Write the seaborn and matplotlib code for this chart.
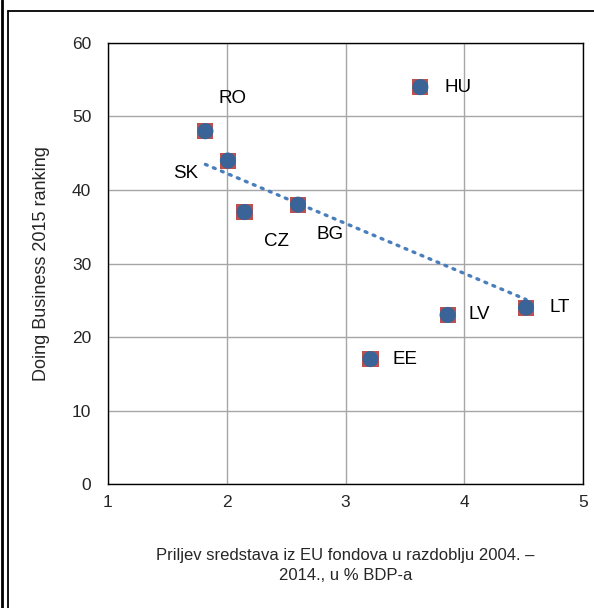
import numpy as np
import pandas as pd
import matplotlib
matplotlib.use('Agg')
import matplotlib.pyplot as plt
import seaborn as sns
from matplotlib.lines import Line2D

# values
countries = ['RO', 'SK', 'CZ', 'BG', 'HU', 'EE', 'LV', 'LT']
eu_funds = [1.82, 2.01, 2.15, 2.60, 3.63, 3.21, 3.86, 4.52]
db_rank = [48, 44, 37, 38, 54, 17, 23, 24]
# label placement (x, y) in data units, as Excel left them
label_x = [2.05, 1.65, 2.42, 2.87, 3.95, 3.50, 4.13, 4.80]
label_y = [52.5, 42.3, 33.0, 34.0, 54.0, 17.0, 23.0, 24.0]

df = pd.DataFrame({'country': countries, 'funds': eu_funds, 'rank': db_rank})

sns.set_style('white')
plt.rcParams['font.family'] = ['Liberation Sans', 'DejaVu Sans']

fig = plt.figure(figsize=(5.94, 6.08), dpi=100)
ax = fig.add_axes([0.1818, 0.2039, 0.7997, 0.7254])

# red squares behind blue circles (Excel marker look)
sns.scatterplot(data=df, x='funds', y='rank', marker='s', s=135, color='#C0504D',
                edgecolor='none', ax=ax, zorder=3)
sns.scatterplot(data=df, x='funds', y='rank', marker='o', s=135, color='#3A6497',
                edgecolor='none', ax=ax, zorder=4)

# linear trendline
k, b = np.polyfit(df['funds'], df['rank'], 1)
xs = np.array([df['funds'].min(), df['funds'].max()])
ax.plot(xs, k * xs + b, linestyle=(0, (0.6, 2.0)), dash_capstyle='round',
        color='#4A7EBB', lw=2.4, zorder=2)

for name, lx, ly in zip(countries, label_x, label_y):
    ax.text(lx, ly, name, fontsize=13.5, ha='center', va='center', color='black')

ax.set_xlim(1, 5)
ax.set_ylim(0, 60)
ax.set_xticks([1, 2, 3, 4, 5])
ax.set_yticks(range(0, 61, 10))
ax.grid(True, color='#A6A6A6', lw=1)
ax.set_axisbelow(True)
for s in ax.spines.values():
    s.set_color('black')
    s.set_linewidth(1)
ax.tick_params(axis='both', labelsize=12.5, length=0)
ax.tick_params(axis='y', pad=12)
ax.tick_params(axis='x', pad=8)
ax.set_xlabel('Priljev sredstava iz EU fondova u razdoblju 2004. –\n2014., u % BDP-a',
              fontsize=12, labelpad=27, linespacing=1.45)
ax.set_ylabel('Doing Business 2015 ranking', fontsize=13, labelpad=16)

# outer frame lines
fig.add_artist(Line2D([0.004, 0.004], [0, 1], transform=fig.transFigure, color='black', lw=2))
fig.add_artist(Line2D([0.0135, 0.0135], [0, 1 - 11 / 608], transform=fig.transFigure, color='black', lw=1.3))
fig.add_artist(Line2D([0.0135, 1], [1 - 11 / 608, 1 - 11 / 608], transform=fig.transFigure, color='black', lw=1.3))

fig.savefig('out.png', dpi=100)
